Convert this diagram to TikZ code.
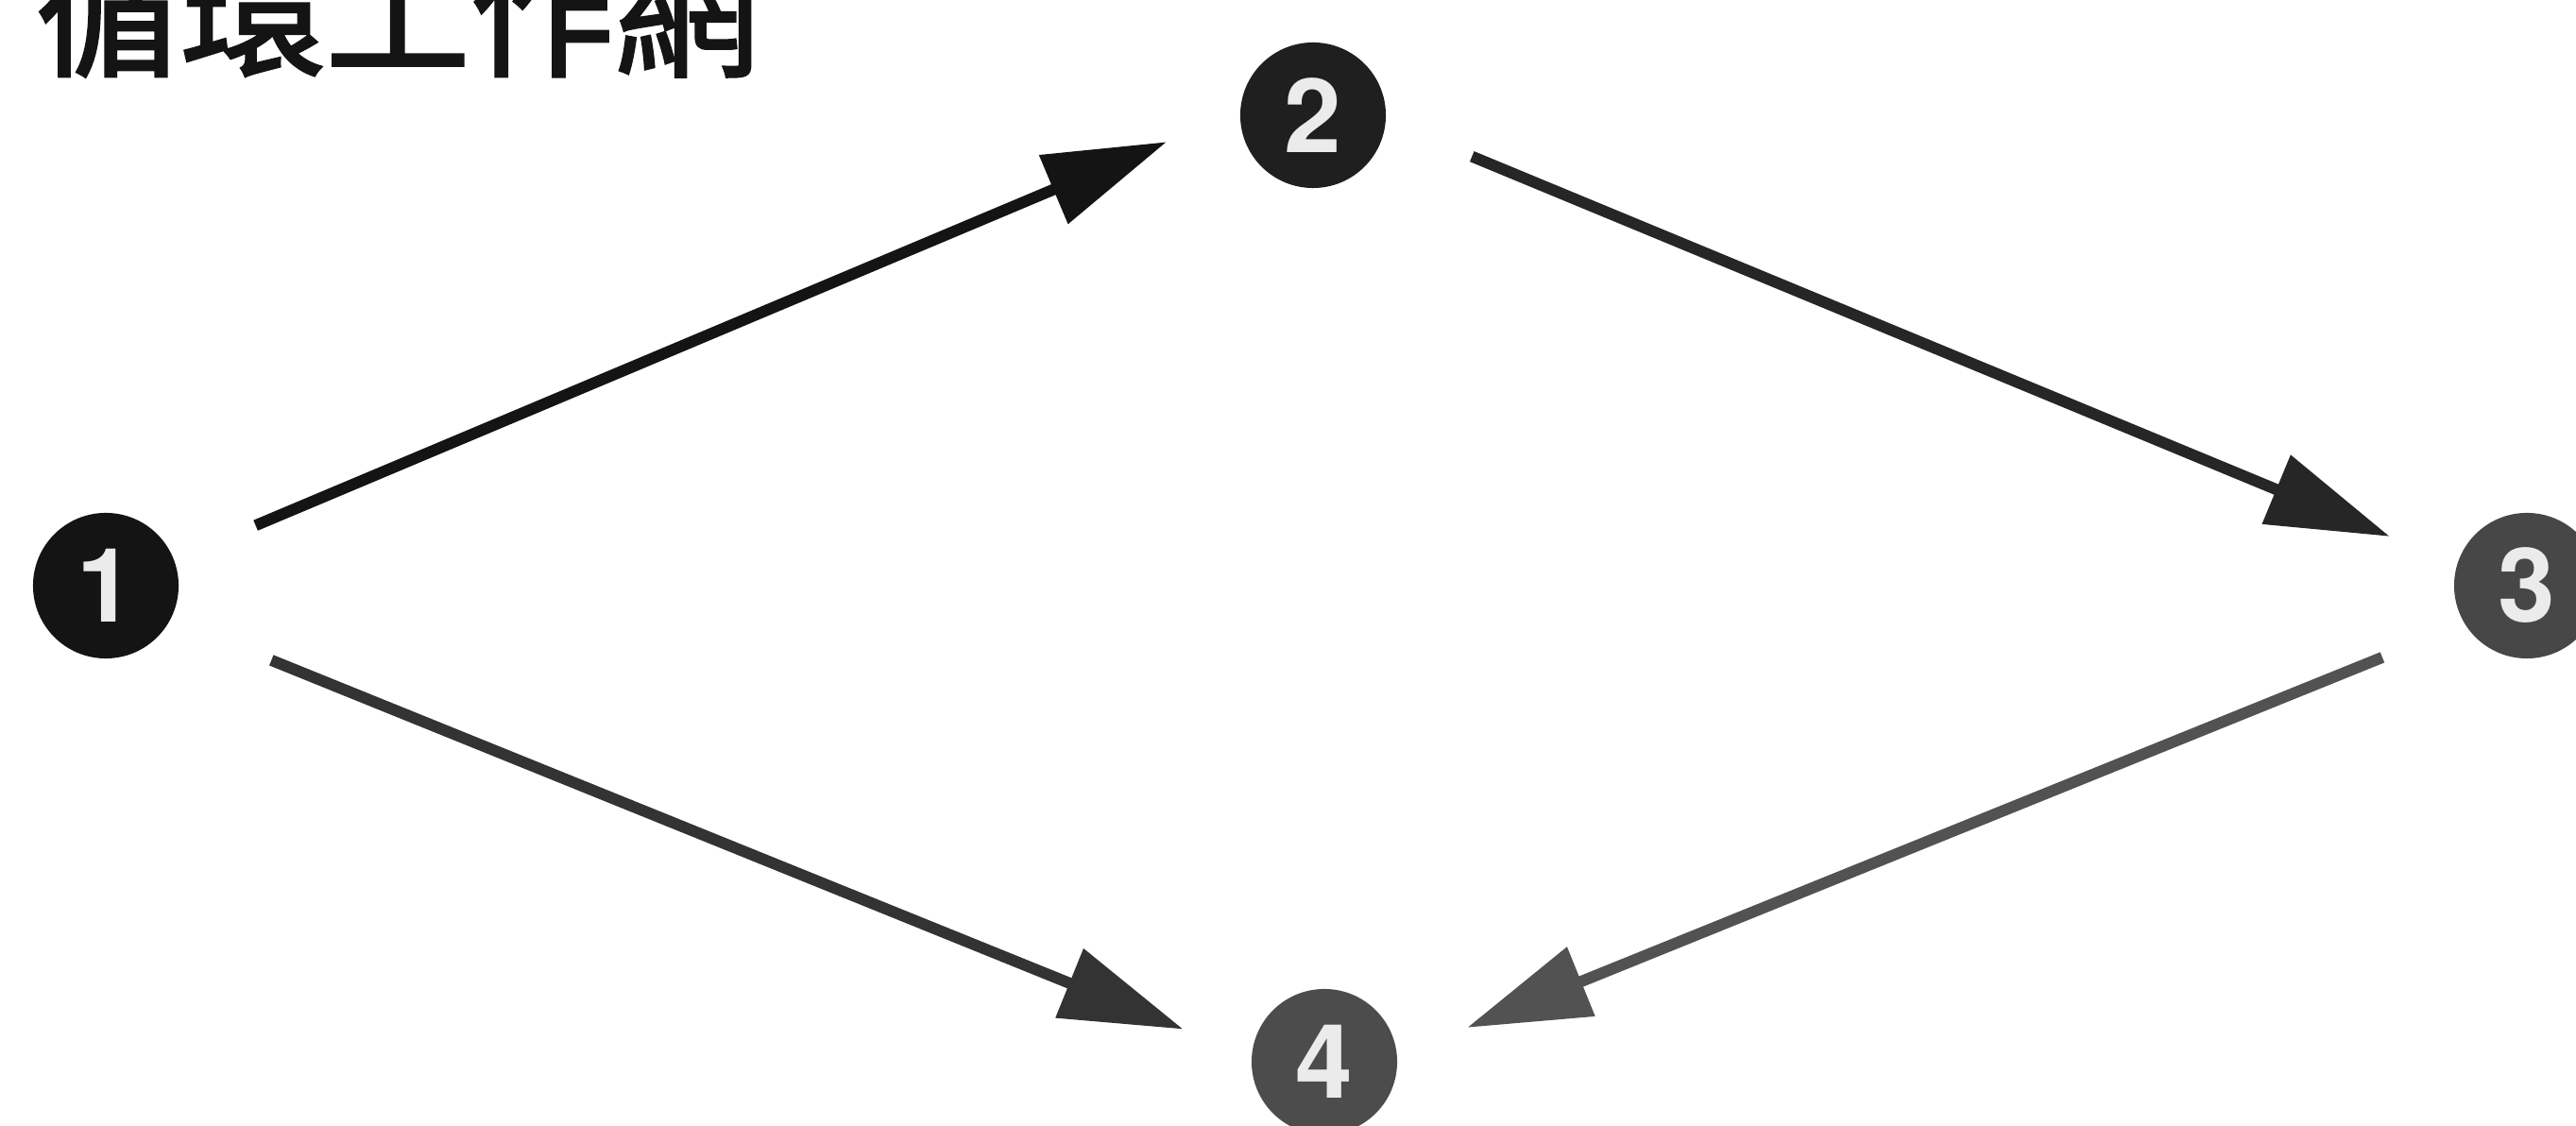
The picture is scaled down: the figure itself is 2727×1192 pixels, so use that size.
\documentclass[tikz,border=0pt]{standalone}
\usepackage{fontspec}
\setmainfont{TeX Gyre Heros}
\newfontfamily\cjk{Noto Sans CJK TC}[FakeBold=2]
\usetikzlibrary{arrows.meta,calc}
\begin{document}
\begin{tikzpicture}[x=0.01cm,y=-0.01cm,
  num/.style={circle,minimum size=1.54cm,inner sep=0pt,text=white!92!black,font=\fontsize{31}{31}\selectfont\bfseries},
  arr/.style={line width=3.4pt,-{Triangle[length=1.3cm,width=0.76cm]}}]
\useasboundingbox[fill=white] (0,0) rectangle (2727,1192);
\node[anchor=base west,inner sep=0pt,text=black!92,font=\cjk\fontsize{43.5}{44}\selectfont] (title) at (38,69)
  {循環工作網};
\node[num,fill=black!92] (n1) at (112,620) {1};
\node[num,fill=black!88] (n2) at (1390,122) {2};
\node[num,fill=black!72] (n3) at (2675,620) {3};
\node[num,fill=black!70] (n4) at (1402,1124) {4};
\draw[arr,draw=black!92,fill=black!92,shorten <=1.72cm,shorten >=1.68cm] ($(n1)+(0,3)$) -- ($(n2)+(0,-37)$);
\draw[arr,draw=black!85,fill=black!85,shorten <=1.82cm,shorten >=1.57cm] ($(n2)+(0,-26)$) -- ($(n3)+(0,8)$);
\draw[arr,draw=black!68,fill=black!68,shorten <=1.65cm,shorten >=1.63cm] ($(n3)+(0,14)$) -- ($(n4)+(0,25)$);
\draw[arr,draw=black!80,fill=black!80,shorten <=1.89cm,shorten >=1.61cm] ($(n1)+(0,8)$) -- ($(n4)+(0,26)$);
\end{tikzpicture}
\end{document}
